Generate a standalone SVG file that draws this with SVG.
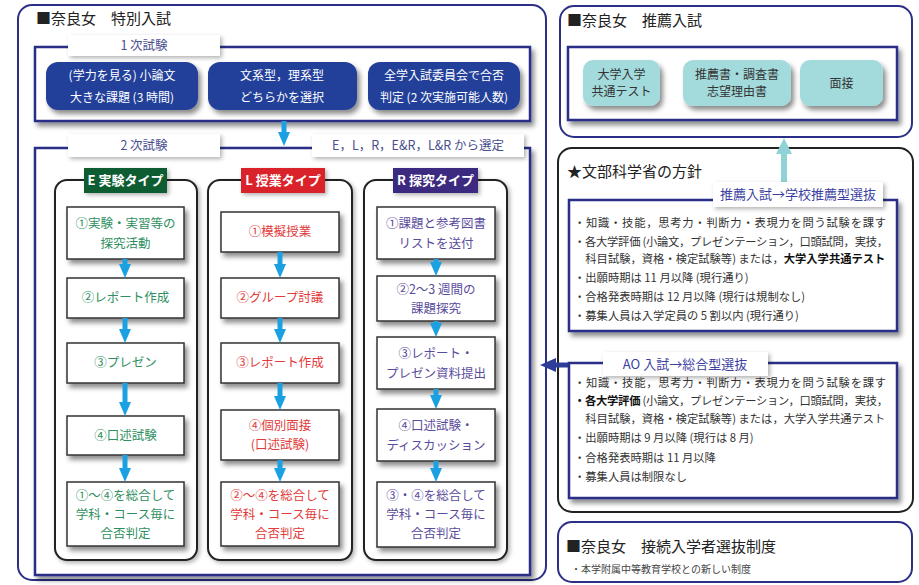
<svg xmlns="http://www.w3.org/2000/svg" width="919" height="585" viewBox="0 0 919 585">
<defs>
<filter id="sh" x="-20%" y="-20%" width="150%" height="160%"><feDropShadow dx="3" dy="4" stdDeviation="2.5" flood-color="#000" flood-opacity="0.45"/></filter>
<filter id="shl" x="-20%" y="-20%" width="150%" height="160%"><feDropShadow dx="2" dy="2" stdDeviation="2" flood-color="#000" flood-opacity="0.3"/></filter>
<marker id="ac" markerUnits="userSpaceOnUse" markerWidth="14" markerHeight="12" refX="6" refY="6" orient="auto"><path d="M0,0 L14,6 L0,12 z" fill="#1ba1e2"/></marker>
<marker id="al" markerUnits="userSpaceOnUse" markerWidth="16" markerHeight="16" refX="6" refY="8" orient="auto"><path d="M0,0 L16,8 L0,16 z" fill="#8fd3d6"/></marker>
<marker id="an" markerUnits="userSpaceOnUse" markerWidth="16" markerHeight="14" refX="6" refY="7" orient="auto"><path d="M0,0 L16,7 L0,14 z" fill="#2e3d9a"/></marker>
</defs>
<style>
text{font-family:"Noto Sans CJK JP","Noto Sans",sans-serif;}
.ttl{font-size:15px;fill:#222;}
.frame{fill:#fff;stroke:#2b2f86;stroke-width:2;}
.blk{fill:#fff;stroke:#222;stroke-width:2;}
.inner{fill:#fff;stroke:#2b2f86;stroke-width:2.5;filter:url(#sh);}
.tab{fill:#fff;filter:url(#shl);}
.tabt{font-size:12.5px;fill:#4a4f8f;text-anchor:middle;}
.dk{fill:#21409a;filter:url(#sh);}
.dkt{font-size:12px;fill:#fff;text-anchor:middle;}
.panel{fill:#fff;stroke:#222;stroke-width:2;filter:url(#shl);}
.hd{font-size:13px;font-weight:bold;fill:#fff;text-anchor:middle;}
.st{fill:#fff;stroke:#333;stroke-width:1.5;filter:url(#sh);}
.e{font-size:12.5px;fill:#2f8f5f;text-anchor:middle;}
.l{font-size:12.5px;fill:#e23a3a;text-anchor:middle;}
.r{font-size:12.5px;fill:#5a4c9c;text-anchor:middle;}
.cy{fill:#a3dadc;filter:url(#sh);}
.cyt{font-size:12px;fill:#333;text-anchor:middle;}
.bl{font-size:11.3px;fill:#333;}
.b{font-weight:bold;fill:#111;}
.con{fill:none;stroke:#1ba1e2;stroke-width:5;marker-end:url(#ac);}
</style>

<g id="tokubetsu">
<rect class="frame" x="18" y="5" width="528" height="575" rx="14"/>
<text class="ttl" x="36" y="24">■奈良女　特別入試</text>
</g>

<g id="stage1">
<rect class="inner" x="35" y="47" width="495" height="74"/>
<rect class="tab" x="68" y="35" width="152" height="21"/>
<text class="tabt" x="144" y="50">1 次試験</text>
</g>
<g id="s1a"><rect class="dk" x="46" y="62" width="152" height="48" rx="12"/>
<text class="dkt" x="122" y="80">(学力を見る) 小論文</text><text class="dkt" x="122" y="102">大きな課題 (3 時間)</text></g>
<g id="s1b"><rect class="dk" x="208" y="62" width="149" height="48" rx="12"/>
<text class="dkt" x="282" y="80">文系型，理系型</text><text class="dkt" x="282" y="102">どちらかを選択</text></g>
<g id="s1c"><rect class="dk" x="368" y="62" width="152" height="48" rx="12"/>
<text class="dkt" x="444" y="80">全学入試委員会で合否</text><text class="dkt" x="444" y="102">判定 (2 次実施可能人数)</text></g>

<g id="stage2">
<rect class="inner" x="35" y="148" width="495" height="427"/>
<rect class="tab" x="68" y="134" width="152" height="23"/>
<text class="tabt" x="144" y="150">2 次試験</text>
<rect class="tab" x="312" y="134" width="212" height="23"/>
<text class="tabt" x="418" y="150">E，L，R，E&amp;R，L&amp;R から選定</text>
</g>

<g id="panelE">
<rect class="panel" x="55" y="180" width="142" height="380" rx="12"/>
<rect x="84" y="168" width="83" height="25" fill="#0d5c33" filter="url(#shl)"/>
<text class="hd" x="125.5" y="185">E 実験タイプ</text>
</g>
<g id="panelL">
<rect class="panel" x="208" y="180" width="144" height="380" rx="12"/>
<rect x="241" y="168" width="84" height="25" fill="#d9212b" filter="url(#shl)"/>
<text class="hd" x="283" y="185">L 授業タイプ</text>
</g>
<g id="panelR">
<rect class="panel" x="364" y="180" width="143" height="380" rx="12"/>
<rect x="393" y="168" width="85" height="25" fill="#3b2a80" filter="url(#shl)"/>
<text class="hd" x="435.5" y="185">R 探究タイプ</text>
</g>

<g id="e1"><rect class="st" x="67" y="207" width="117" height="52"/><text class="e" x="125.5" y="228">①実験・実習等の</text><text class="e" x="125.5" y="248">探究活動</text></g>
<g id="e2"><rect class="st" x="67" y="278" width="117" height="40"/><text class="e" x="125.5" y="302">②レポート作成</text></g>
<g id="e3"><rect class="st" x="67" y="343" width="117" height="40"/><text class="e" x="125.5" y="367">③プレゼン</text></g>
<g id="e4"><rect class="st" x="67" y="416" width="117" height="39"/><text class="e" x="125.5" y="440">④口述試験</text></g>
<g id="e5"><rect class="st" x="67" y="482" width="117" height="64"/><text class="e" x="125.5" y="500">①～④を総合して</text><text class="e" x="125.5" y="519">学科・コース毎に</text><text class="e" x="125.5" y="538">合否判定</text></g>

<g id="l1"><rect class="st" x="221" y="212" width="118" height="40"/><text class="l" x="280" y="236">①模擬授業</text></g>
<g id="l2"><rect class="st" x="221" y="278" width="118" height="40"/><text class="l" x="280" y="302">②グループ討議</text></g>
<g id="l3"><rect class="st" x="221" y="343" width="118" height="40"/><text class="l" x="280" y="367">③レポート作成</text></g>
<g id="l4"><rect class="st" x="221" y="410" width="118" height="50"/><text class="l" x="280" y="430">④個別面接</text><text class="l" x="280" y="449">(口述試験)</text></g>
<g id="l5"><rect class="st" x="221" y="482" width="118" height="64"/><text class="l" x="280" y="500">②～④を総合して</text><text class="l" x="280" y="519">学科・コース毎に</text><text class="l" x="280" y="538">合否判定</text></g>

<g id="r1"><rect class="st" x="377" y="207" width="118" height="52"/><text class="r" x="436" y="228">①課題と参考図書</text><text class="r" x="436" y="248">リストを送付</text></g>
<g id="r2"><rect class="st" x="377" y="276" width="118" height="45"/><text class="r" x="436" y="294">②2～3 週間の</text><text class="r" x="436" y="313">課題探究</text></g>
<g id="r3"><rect class="st" x="377" y="337" width="118" height="52"/><text class="r" x="436" y="358">③レポート・</text><text class="r" x="436" y="378">プレゼン資料提出</text></g>
<g id="r4"><rect class="st" x="377" y="409" width="118" height="52"/><text class="r" x="436" y="430">④口述試験・</text><text class="r" x="436" y="450">ディスカッション</text></g>
<g id="r5"><rect class="st" x="377" y="482" width="118" height="65"/><text class="r" x="436" y="500">③・④を総合して</text><text class="r" x="436" y="519">学科・コース毎に</text><text class="r" x="436" y="538">合否判定</text></g>

<g id="suisen">
<rect class="frame" x="560" y="6" width="352" height="131" rx="14"/>
<text class="ttl" x="567" y="26">■奈良女　推薦入試</text>
<rect class="inner" x="568" y="47" width="329" height="73"/>
</g>
<g id="c1"><rect class="cy" x="583" y="60" width="77" height="46" rx="10"/><text class="cyt" x="621.5" y="79">大学入学</text><text class="cyt" x="621.5" y="96">共通テスト</text></g>
<g id="c2"><rect class="cy" x="683" y="60" width="108" height="46" rx="10"/><text class="cyt" x="737" y="79">推薦書・調査書</text><text class="cyt" x="737" y="96">志望理由書</text></g>
<g id="c3"><rect class="cy" x="800" y="60" width="83" height="46" rx="10"/><text class="cyt" x="841.5" y="88">面接</text></g>

<g id="monka">
<rect class="blk" x="558" y="148" width="355" height="364" rx="14"/>
<text class="ttl" x="567" y="177">★文部科学省の方針</text>
</g>
<g id="connectors">
<path class="con" d="M284,121 V138"/>
<path class="con" d="M125,259 V270"/>
<path class="con" d="M125,318 V335"/>
<path class="con" d="M125,383 V408"/>
<path class="con" d="M125,455 V474"/>
<path class="con" d="M280,252 V270"/>
<path class="con" d="M280,318 V335"/>
<path class="con" d="M280,383 V402"/>
<path class="con" d="M280,460 V474"/>
<path class="con" d="M436,259 V268"/>
<path class="con" d="M436,321 V329"/>
<path class="con" d="M436,389 V401"/>
<path class="con" d="M436,461 V474"/>
<path d="M784,186 V148" fill="none" stroke="#8fd3d6" stroke-width="6" marker-end="url(#al)"/>
<path d="M604,365 H550" fill="none" stroke="#2e3d9a" stroke-width="5" marker-end="url(#an)"/>
</g>
<g id="monka1">
<rect class="inner" x="569" y="200" width="328" height="131"/>
<rect class="tab" x="713" y="182" width="170" height="25"/>
<text class="tabt" x="798" y="199" style="fill:#3c3fa0;font-size:13px">推薦入試→学校推薦型選抜</text>
<text class="bl" x="574" y="227" textLength="312" lengthAdjust="spacing">・知識・技能，思考力・判断力・表現力を問う試験を課す</text>
<text class="bl" x="574" y="246" textLength="314" lengthAdjust="spacing">・各大学評価 (小論文，プレゼンテーション，口頭試問，実技，</text>
<text class="bl" x="574" y="263">　科目試験，資格・検定試験等) または，<tspan class="b">大学入学共通テスト</tspan></text>
<text class="bl" x="574" y="282">・出願時期は 11 月以降 (現行通り)</text>
<text class="bl" x="574" y="301">・合格発表時期は 12 月以降 (現行は規制なし)</text>
<text class="bl" x="574" y="320">・募集人員は入学定員の 5 割以内 (現行通り)</text>
</g>
<g id="monka2">
<rect class="inner" x="569" y="363" width="328" height="135"/>
<rect class="tab" x="603" y="352" width="165" height="24"/>
<text class="tabt" x="685" y="369" style="fill:#3c3fa0;font-size:13px">AO 入試→総合型選抜</text>
<text class="bl" x="574" y="387" textLength="312" lengthAdjust="spacing">・知識・技能，思考力・判断力・表現力を問う試験を課す</text>
<text class="bl" x="574" y="405" textLength="314" lengthAdjust="spacing"><tspan class="b">・各大学評価</tspan> (小論文，プレゼンテーション，口頭試問，実技，</text>
<text class="bl" x="574" y="423">　科目試験，資格・検定試験等) または，大学入学共通テスト</text>
<text class="bl" x="574" y="442">・出願時期は 9 月以降 (現行は 8 月)</text>
<text class="bl" x="574" y="462">・合格発表時期は 11 月以降</text>
<text class="bl" x="574" y="481">・募集人員は制限なし</text>
</g>

<g id="setsuzoku">
<rect class="frame" x="558" y="522" width="354" height="60" rx="14"/>
<text class="ttl" x="566" y="552">■奈良女　接続入学者選抜制度</text>
<text x="571" y="573" style="font-size:10px;fill:#444">・本学附属中等教育学校との新しい制度</text>
</g>
</svg>
